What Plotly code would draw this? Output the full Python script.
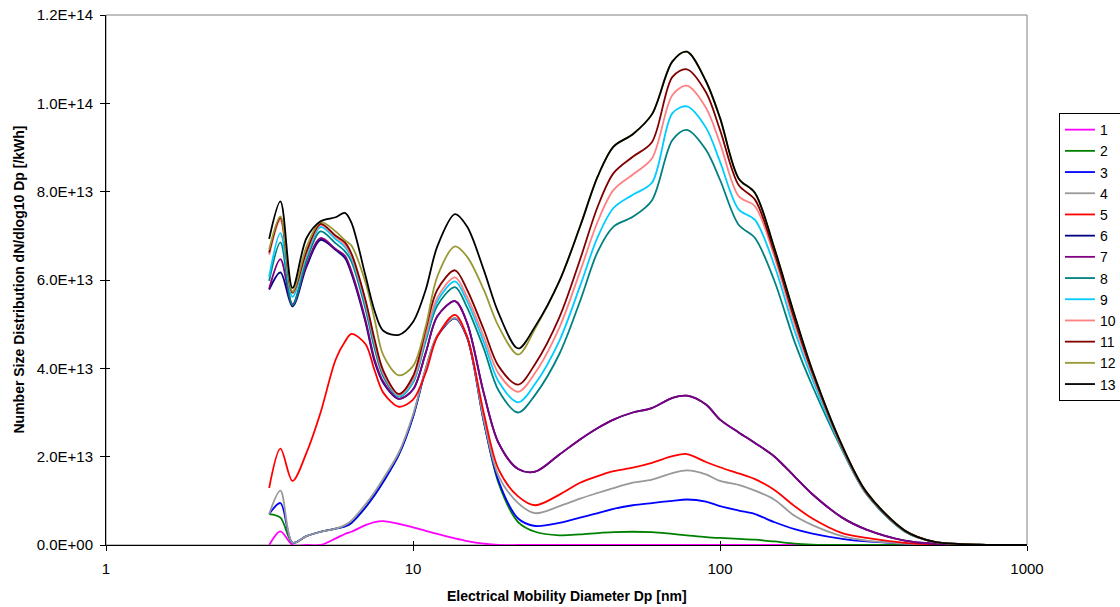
import plotly.graph_objects as go

# Electrical mobility diameter (nm) at which the distributions are sampled
diameter_nm = [3.4, 3.7, 4.05, 4.5, 5.0, 5.6, 6.0, 6.3, 7.0, 7.5, 8.0, 9.0, 10, 11, 12, 13.7, 15, 17, 19, 22,
               25, 30, 35, 40, 45, 52, 60, 70, 78, 90, 100, 115, 130, 150, 175, 200, 250, 300, 400, 500, 700, 1000]

# dN/dlog10 Dp per kWh, in units of 1E+13
s1 = [0.0, 0.31, 0.0, 0.0, 0.0, 0.15, 0.25, 0.30, 0.45, 0.52, 0.54, 0.48, 0.40, 0.32, 0.25, 0.15, 0.09, 0.03,
      0, 0, 0, 0, 0, 0, 0, 0, 0, 0, 0, 0, 0, 0, 0, 0, 0, 0, 0, 0, 0, 0, 0, 0]
s2 = [0.70, 0.62, 0.05, 0.20, 0.30, 0.37, 0.42, 0.50, 0.85, 1.13, 1.43, 2.05, 2.90, 3.98, 4.73, 5.13, 4.70, 2.80,
      1.40, 0.52, 0.30, 0.22, 0.24, 0.27, 0.29, 0.30, 0.29, 0.25, 0.22, 0.18, 0.16, 0.14, 0.12, 0.08, 0.03, 0.01,
      0, 0, 0, 0, 0, 0]
s3 = [0.70, 0.95, 0.05, 0.20, 0.30, 0.37, 0.42, 0.50, 0.85, 1.13, 1.43, 2.05, 2.90, 3.98, 4.73, 5.13, 4.70, 2.80,
      1.45, 0.60, 0.43, 0.50, 0.62, 0.72, 0.82, 0.90, 0.95, 1.00, 1.03, 0.98, 0.88, 0.78, 0.70, 0.52, 0.36, 0.26,
      0.14, 0.08, 0.03, 0.01, 0, 0]
s4 = [0.70, 1.23, 0.05, 0.20, 0.30, 0.37, 0.45, 0.55, 0.92, 1.20, 1.50, 2.10, 2.95, 4.00, 4.75, 5.14, 4.72, 2.84,
      1.56, 0.95, 0.72, 0.88, 1.05, 1.18, 1.29, 1.41, 1.48, 1.63, 1.69, 1.60, 1.45, 1.36, 1.23, 1.03, 0.66, 0.45,
      0.20, 0.10, 0.03, 0.01, 0, 0]
s5 = [1.29, 2.18, 1.45, 2.09, 3.00, 4.20, 4.60, 4.78, 4.55, 3.95, 3.45, 3.13, 3.29, 3.90, 4.72, 5.21, 4.72, 2.99,
      1.71, 1.10, 0.90, 1.14, 1.41, 1.56, 1.67, 1.75, 1.86, 2.01, 2.06, 1.88, 1.76, 1.62, 1.49, 1.25, 0.88, 0.60,
      0.27, 0.16, 0.05, 0.01, 0, 0]
s6 = [5.78, 6.17, 5.40, 6.30, 6.91, 6.68, 6.50, 6.15, 5.05, 4.15, 3.67, 3.31, 3.52, 4.35, 5.18, 5.52, 5.03, 3.44,
      2.31, 1.72, 1.66, 2.05, 2.39, 2.65, 2.84, 3.00, 3.10, 3.33, 3.38, 3.18, 2.84, 2.55, 2.31, 2.01, 1.55, 1.15,
      0.62, 0.35, 0.10, 0.03, 0.005, 0]
s7 = [5.80, 6.47, 5.45, 6.35, 6.95, 6.70, 6.55, 6.20, 5.10, 4.20, 3.70, 3.31, 3.52, 4.35, 5.18, 5.52, 5.03, 3.44,
      2.31, 1.72, 1.66, 2.05, 2.39, 2.65, 2.84, 3.00, 3.10, 3.33, 3.38, 3.18, 2.84, 2.55, 2.31, 2.01, 1.55, 1.15,
      0.62, 0.35, 0.10, 0.03, 0.005, 0]
s8 = [5.98, 6.85, 5.43, 6.45, 7.10, 6.83, 6.65, 6.42, 5.35, 4.45, 3.82, 3.36, 3.68, 4.62, 5.42, 5.84, 5.38, 4.45,
      3.50, 3.00, 3.40, 4.33, 5.52, 6.65, 7.21, 7.43, 7.80, 9.17, 9.40, 8.95, 8.27, 7.25, 6.95, 6.00, 4.60, 3.60,
      2.15, 1.15, 0.30, 0.07, 0.01, 0]
s9 = [6.07, 7.06, 5.62, 6.55, 7.20, 6.92, 6.75, 6.50, 5.45, 4.55, 3.88, 3.37, 3.70, 4.68, 5.52, 5.97, 5.52, 4.60,
      3.70, 3.23, 3.65, 4.63, 5.86, 6.98, 7.63, 7.93, 8.20, 9.78, 9.93, 9.45, 8.68, 7.60, 7.36, 6.35, 4.85, 3.75,
      2.18, 1.16, 0.31, 0.07, 0.01, 0]
s10 = [6.57, 7.35, 5.70, 6.60, 7.25, 6.97, 6.80, 6.55, 5.50, 4.60, 3.90, 3.40, 3.75, 4.75, 5.60, 6.06, 5.62, 4.72,
       3.88, 3.47, 3.90, 4.93, 6.19, 7.33, 8.04, 8.39, 8.75, 10.19, 10.40, 9.90, 9.10, 7.90, 7.67, 6.55, 5.00, 3.85,
       2.20, 1.17, 0.32, 0.07, 0.01, 0]
s11 = [6.62, 7.40, 5.72, 6.65, 7.27, 7.00, 6.85, 6.60, 5.55, 4.65, 3.95, 3.42, 3.82, 4.88, 5.78, 6.22, 5.78, 4.88,
       4.05, 3.63, 4.10, 5.16, 6.46, 7.67, 8.42, 8.79, 9.12, 10.60, 10.77, 10.25, 9.40, 8.15, 7.82, 6.65, 5.10, 3.90,
       2.22, 1.18, 0.32, 0.07, 0.01, 0]
s12 = [6.69, 7.44, 5.74, 6.75, 7.31, 7.10, 6.90, 6.78, 5.95, 5.10, 4.30, 3.84, 4.05, 4.95, 6.08, 6.76, 6.53, 5.78,
       4.95, 4.31, 4.90, 5.98, 7.21, 8.35, 9.02, 9.30, 9.75, 10.95, 11.17, 10.50, 9.67, 8.30, 7.97, 6.74, 5.20, 3.95,
       2.25, 1.20, 0.33, 0.07, 0.01, 0]
s13 = [6.93, 7.78, 5.82, 6.95, 7.33, 7.42, 7.52, 7.30, 6.10, 5.30, 4.85, 4.76, 5.05, 5.78, 6.76, 7.49, 7.21, 6.23,
       5.25, 4.45, 4.95, 5.98, 7.21, 8.35, 9.02, 9.30, 9.75, 10.95, 11.17, 10.50, 9.67, 8.30, 7.97, 6.74, 5.20, 3.95,
       2.25, 1.20, 0.33, 0.07, 0.01, 0]

series_names = ["1", "2", "3", "4", "5", "6", "7", "8", "9", "10", "11", "12", "13"]
series_values = [s1, s2, s3, s4, s5, s6, s7, s8, s9, s10, s11, s12, s13]
series_colors = ["#FF00FF", "#008000", "#0000FF", "#999999", "#FF0000", "#000080", "#800080",
                 "#008080", "#00CCFF", "#FF8080", "#800000", "#999933", "#000000"]
UNIT = 1e13

y_tick_values = [0, 2e13, 4e13, 6e13, 8e13, 1e14, 1.2e14]
y_tick_labels = ["0.0E+00", "2.0E+13", "4.0E+13", "6.0E+13", "8.0E+13", "1.0E+14", "1.2E+14"]
x_tick_values = [1, 10, 100, 1000]
x_tick_labels = ["1", "10", "100", "1000"]

FONT = "Liberation Sans, Arial, sans-serif"

fig = go.Figure()
for name, vals, color in zip(series_names, series_values, series_colors):
    fig.add_trace(go.Scatter(
        x=diameter_nm, y=[v * UNIT for v in vals], name=name, mode="lines",
        line=dict(color=color, width=1.8, shape="spline", smoothing=0.9),
        hoverinfo="x+y+name",
    ))

# companion axes carrying the inner half of each tick mark
fig.add_trace(go.Scatter(x=[], y=[], xaxis="x2", yaxis="y2", showlegend=False))

fig.update_layout(
    width=1120, height=607,
    margin=dict(l=106, r=93, t=15, b=62, autoexpand=False),
    paper_bgcolor="white", plot_bgcolor="white",
    font=dict(family=FONT, size=13, color="black"),
    showlegend=True,
    legend=dict(
        x=1.0347, y=0.815, xanchor="left", yanchor="top",
        bgcolor="white", bordercolor="black", borderwidth=1,
        font=dict(family=FONT, size=14, color="black"),
        tracegroupgap=0, itemwidth=30,
    ),
    xaxis=dict(
        type="log", range=[0, 3], tickvals=x_tick_values, ticktext=x_tick_labels,
        showgrid=False, zeroline=False, showline=True, linecolor="black", linewidth=1,
        ticks="outside", ticklen=5, tickcolor="black", ticklabelstandoff=5,
        tickfont=dict(family=FONT, size=15),
    ),
    yaxis=dict(
        range=[0, 1.2e14], tickvals=y_tick_values, ticktext=y_tick_labels,
        showgrid=False, zeroline=False, showline=True, linecolor="black", linewidth=1,
        ticks="outside", ticklen=5, tickcolor="black", ticklabelstandoff=4,
        tickfont=dict(family=FONT, size=15),
    ),
    xaxis2=dict(
        type="log", range=[0, 3], tickvals=x_tick_values, overlaying="x", anchor="y",
        side="bottom", showticklabels=False, showgrid=False, zeroline=False, showline=False,
        ticks="inside", ticklen=4, tickcolor="black",
    ),
    yaxis2=dict(
        range=[0, 1.2e14], tickvals=y_tick_values, overlaying="y", anchor="x",
        side="left", showticklabels=False, showgrid=False, zeroline=False, showline=False,
        ticks="inside", ticklen=4, tickcolor="black",
    ),
    shapes=[dict(type="rect", xref="paper", yref="paper", x0=0, x1=1, y0=0, y1=1,
                 line=dict(color="#808080", width=1), layer="below")],
    annotations=[
        dict(text="<b>Electrical Mobility Diameter Dp [nm]</b>", xref="paper", yref="paper",
             x=0.5, y=-0.097, xanchor="center", yanchor="middle", showarrow=False,
             font=dict(family=FONT, size=14)),
        dict(text="<b>Number Size Distribution dN/dlog10 Dp [/kWh]</b>", xref="paper", yref="paper",
             x=-0.095, y=0.5, xanchor="center", yanchor="middle", textangle=-90, showarrow=False,
             font=dict(family=FONT, size=14)),
    ],
)

fig.write_html("out.html")
